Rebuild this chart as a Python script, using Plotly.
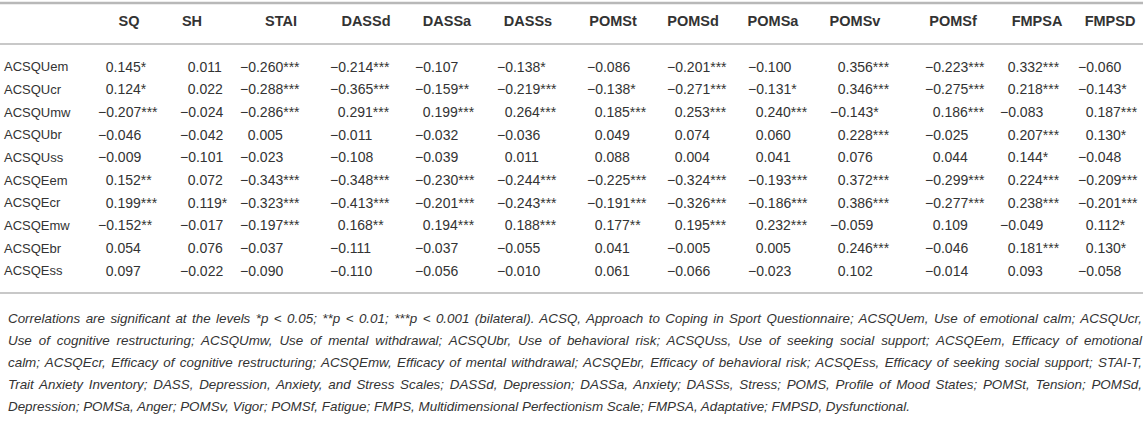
import plotly.graph_objects as go

# column / row labels
cols = ["SQ", "SH", "STAI", "DASSd", "DASSa", "DASSs", "POMSt", "POMSd",
        "POMSa", "POMSv", "POMSf", "FMPSA", "FMPSD"]
rows = ["ACSQUem", "ACSQUcr", "ACSQUmw", "ACSQUbr", "ACSQUss",
        "ACSQEem", "ACSQEcr", "ACSQEmw", "ACSQEbr", "ACSQEss"]

# correlations, one list per row (same order as cols)
r_ACSQUem = [0.145, 0.011, -0.260, -0.214, -0.107, -0.138, -0.086, -0.201, -0.100, 0.356, -0.223, 0.332, -0.060]
r_ACSQUcr = [0.124, 0.022, -0.288, -0.365, -0.159, -0.219, -0.138, -0.271, -0.131, 0.346, -0.275, 0.218, -0.143]
r_ACSQUmw = [-0.207, -0.024, -0.286, 0.291, 0.199, 0.264, 0.185, 0.253, 0.240, -0.143, 0.186, -0.083, 0.187]
r_ACSQUbr = [-0.046, -0.042, 0.005, -0.011, -0.032, -0.036, 0.049, 0.074, 0.060, 0.228, -0.025, 0.207, 0.130]
r_ACSQUss = [-0.009, -0.101, -0.023, -0.108, -0.039, 0.011, 0.088, 0.004, 0.041, 0.076, 0.044, 0.144, -0.048]
r_ACSQEem = [0.152, 0.072, -0.343, -0.348, -0.230, -0.244, -0.225, -0.324, -0.193, 0.372, -0.299, 0.224, -0.209]
r_ACSQEcr = [0.199, 0.119, -0.323, -0.413, -0.201, -0.243, -0.191, -0.326, -0.186, 0.386, -0.277, 0.238, -0.201]
r_ACSQEmw = [-0.152, -0.017, -0.197, 0.168, 0.194, 0.188, 0.177, 0.195, 0.232, -0.059, 0.109, -0.049, 0.112]
r_ACSQEbr = [0.054, 0.076, -0.037, -0.111, -0.037, -0.055, 0.041, -0.005, 0.005, 0.246, -0.046, 0.181, 0.130]
r_ACSQEss = [0.097, -0.022, -0.090, -0.110, -0.056, -0.010, 0.061, -0.066, -0.023, 0.102, -0.014, 0.093, -0.058]

# significance stars (number of *)
s_ACSQUem = [1, 0, 3, 3, 0, 1, 0, 3, 0, 3, 3, 3, 0]
s_ACSQUcr = [1, 0, 3, 3, 2, 3, 1, 3, 1, 3, 3, 3, 1]
s_ACSQUmw = [3, 0, 3, 3, 3, 3, 3, 3, 3, 1, 3, 0, 3]
s_ACSQUbr = [0, 0, 0, 0, 0, 0, 0, 0, 0, 3, 0, 3, 1]
s_ACSQUss = [0, 0, 0, 0, 0, 0, 0, 0, 0, 0, 0, 1, 0]
s_ACSQEem = [2, 0, 3, 3, 3, 3, 3, 3, 3, 3, 3, 3, 3]
s_ACSQEcr = [3, 1, 3, 3, 3, 3, 3, 3, 3, 3, 3, 3, 3]
s_ACSQEmw = [2, 0, 3, 2, 3, 3, 2, 3, 3, 0, 0, 0, 1]
s_ACSQEbr = [0, 0, 0, 0, 0, 0, 0, 0, 0, 3, 0, 3, 1]
s_ACSQEss = [0, 0, 0, 0, 0, 0, 0, 0, 0, 0, 0, 0, 0]

vals = [r_ACSQUem, r_ACSQUcr, r_ACSQUmw, r_ACSQUbr, r_ACSQUss,
        r_ACSQEem, r_ACSQEcr, r_ACSQEmw, r_ACSQEbr, r_ACSQEss]
stars = [s_ACSQUem, s_ACSQUcr, s_ACSQUmw, s_ACSQUbr, s_ACSQUss,
         s_ACSQEem, s_ACSQEcr, s_ACSQEmw, s_ACSQEbr, s_ACSQEss]

footnote = [
    "Correlations are significant at the levels *p &lt; 0.05; **p &lt; 0.01; ***p &lt; 0.001 (bilateral). ACSQ, Approach to Coping in Sport Questionnaire; ACSQUem, Use of emotional calm; ACSQUcr,",
    "Use of cognitive restructuring; ACSQUmw, Use of mental withdrawal; ACSQUbr, Use of behavioral risk; ACSQUss, Use of seeking social support; ACSQEem, Efficacy of emotional",
    "calm; ACSQEcr, Efficacy of cognitive restructuring; ACSQEmw, Efficacy of mental withdrawal; ACSQEbr, Efficacy of behavioral risk; ACSQEss, Efficacy of seeking social support; STAI-T,",
    "Trait Anxiety Inventory; DASS, Depression, Anxiety, and Stress Scales; DASSd, Depression; DASSa, Anxiety; DASSs, Stress; POMS, Profile of Mood States; POMSt, Tension; POMSd,",
    "Depression; POMSa, Anger; POMSv, Vigor; POMSf, Fatigue; FMPS, Multidimensional Perfectionism Scale; FMPSA, Adaptative; FMPSD, Dysfunctional.",
]

# table layout (pixels of the 1143x433 page)
W, H = 1143, 433
col_left = [98, 180, 240, 330, 415, 497, 587, 667, 748, 830, 925, 1000, 1078]
col_head = [129, 192, 281, 366, 447, 528, 613, 693, 773, 855, 953, 1037, 1110]
label_x = 4
head_y = 22
row_y0, row_dy = 68, 22.67
foot_y0, foot_dy = 318, 22
FONT = "Liberation Sans, Arial, sans-serif"
txt = "#333333"


def fmt(v, n):
    # minus sign, or a figure space so the digits line up
    return ("\u2212" if v < 0 else "\u2007") + f"{abs(v):.3f}" + "*" * n


fig = go.Figure()

# header
fig.add_trace(go.Scatter(
    x=col_head, y=[head_y] * len(cols), mode="text",
    text=["<b>" + c + "</b>" for c in cols], textposition="middle center",
    textfont=dict(family=FONT, size=14.5, color=txt), hoverinfo="skip"))

# row labels
fig.add_trace(go.Scatter(
    x=[label_x] * len(rows), y=[row_y0 + i * row_dy for i in range(len(rows))],
    mode="text", text=rows, textposition="middle right",
    textfont=dict(family=FONT, size=13, color=txt), hoverinfo="skip"))

# cells
cx, cy, ct = [], [], []
for i in range(len(rows)):
    for j in range(len(cols)):
        cx.append(col_left[j])
        cy.append(row_y0 + i * row_dy)
        ct.append(fmt(vals[i][j], stars[i][j]))
fig.add_trace(go.Scatter(
    x=cx, y=cy, mode="text", text=ct, textposition="middle right",
    textfont=dict(family=FONT, size=14, color=txt), hoverinfo="skip"))

# horizontal rules
fig.add_hline(y=3, line=dict(color="#b8b8b8", width=2.5))
fig.add_hline(y=44, line=dict(color="#c8c8c8", width=2))
fig.add_hline(y=293, line=dict(color="#c8c8c8", width=2))

for k, line in enumerate(footnote):
    fig.add_annotation(text="<i>" + line + "</i>", x=label_x + 2, y=foot_y0 + foot_dy * k,
                       xanchor="left", yanchor="middle", align="left", showarrow=False,
                       font=dict(family=FONT, size=13.4, color=txt))

fig.update_xaxes(range=[0, W], visible=False, fixedrange=True)
fig.update_yaxes(range=[H, 0], visible=False, fixedrange=True)
fig.update_layout(width=W, height=H, margin=dict(l=0, r=0, t=0, b=0),
                  paper_bgcolor="white", plot_bgcolor="white", showlegend=False)

# no page margin; justify the long footnote lines like the printed table
js = """
document.body.style.margin = '0';
try {
  var els = document.querySelectorAll('.annotation-text');
  for (var i = 0; i < els.length; i++) {
    var t = els[i];
    var n = (t.textContent.match(/ /g) || []).length;
    var w = t.getComputedTextLength();
    if (n > 0 && w > 1000 && w < 1134) {
      t.style.wordSpacing = ((1134 - w) / n) + 'px';
    }
  }
} catch (e) {}
"""
fig.write_html("out.html", post_script=js, config={"displayModeBar": False})
